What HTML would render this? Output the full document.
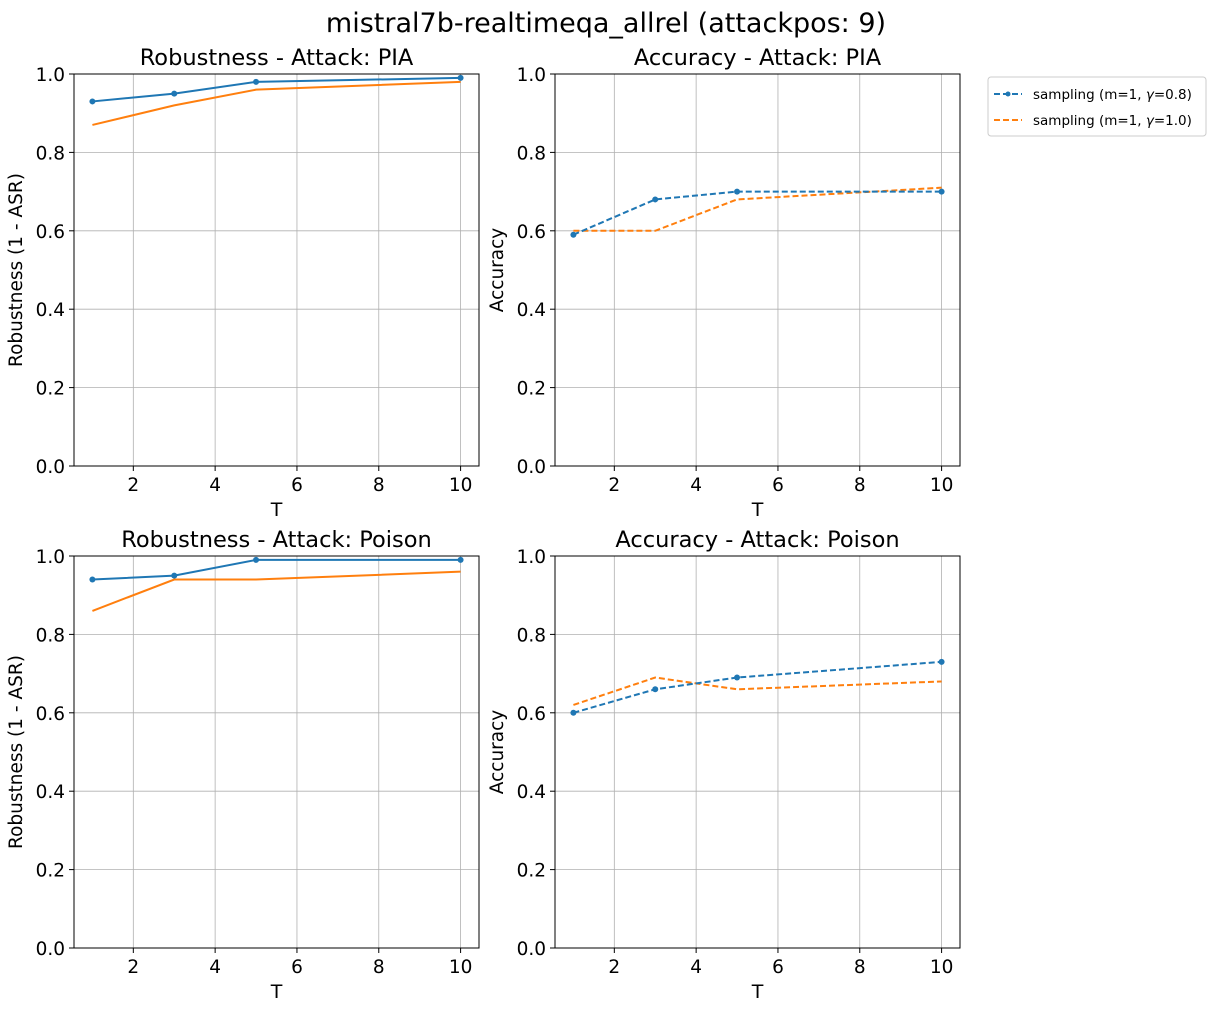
<!DOCTYPE html>
<html><head><meta charset="utf-8"><style>
body{margin:0;background:#fff;}
svg text{font-family:"DejaVu Sans","Liberation Sans",sans-serif;fill:#000;}
</style></head><body>
<svg id="chart" width="1211" height="1011" xmlns="http://www.w3.org/2000/svg">
<text x="606" y="32" font-size="27" text-anchor="middle">mistral7b-realtimeqa_allrel (attackpos: 9)</text>
<g id="legend">
<rect x="988" y="77" width="218" height="59" fill="#fff" stroke="#ccc" rx="3"/>
<line x1="994" y1="94" x2="1022" y2="94" stroke="#1f77b4" stroke-width="2" stroke-dasharray="6,3"/>
<circle cx="1008" cy="94" r="2.5" fill="#1f77b4"/>
<text x="1033" y="99" font-size="13.5">sampling (m=1, <tspan font-style="italic">γ</tspan>=0.8)</text>
<line x1="994" y1="120" x2="1022" y2="120" stroke="#ff7f0e" stroke-width="2" stroke-dasharray="6,3"/>
<text x="1033" y="125" font-size="13.5">sampling (m=1, <tspan font-style="italic">γ</tspan>=1.0)</text>
</g>
</svg>
<script>
const T = [1, 3, 5, 10];
const xTicks = [2, 4, 6, 8, 10];
const yTicks = [0.0, 0.2, 0.4, 0.6, 0.8, 1.0];
const robPiaBlue = [0.93, 0.95, 0.98, 0.99];
const robPiaOrange = [0.87, 0.92, 0.96, 0.98];
const accPiaBlue = [0.59, 0.68, 0.70, 0.70];
const accPiaOrange = [0.60, 0.60, 0.68, 0.71];
const robPoisonBlue = [0.94, 0.95, 0.99, 0.99];
const robPoisonOrange = [0.86, 0.94, 0.94, 0.96];
const accPoisonBlue = [0.60, 0.66, 0.69, 0.73];
const accPoisonOrange = [0.62, 0.69, 0.66, 0.68];

const NS = "http://www.w3.org/2000/svg";
const svg = document.getElementById('chart');
function mk(tag, attrs, parent) {
  const e = document.createElementNS(NS, tag);
  for (const k in attrs) e.setAttribute(k, attrs[k]);
  (parent || svg).appendChild(e);
  return e;
}
function panel(key, L, Tp, title, ylabel, blue, orange, dashed) {
  const W = 405, H = 392;
  const xmin = 0.55, xmax = 10.45;
  const sx = v => L + (v - xmin) / (xmax - xmin) * W;
  const sy = v => Tp + H - v * H;
  const g = mk('g', {});
  
  
  xTicks.forEach(t => {
    const l = mk('line', {x1: sx(t), x2: sx(t), y1: Tp, y2: Tp + H, stroke: '#b0b0b0', 'stroke-width': 0.8}, g);
    
    
    mk('line', {x1: sx(t), x2: sx(t), y1: Tp + H, y2: Tp + H + 5, stroke: '#000'}, g);
    const tx = mk('text', {x: sx(t), y: Tp + H + 25, 'font-size': 18.5, 'text-anchor': 'middle'}, g);
    tx.textContent = t;
    
    
  });
  yTicks.forEach(t => {
    const l = mk('line', {x1: L, x2: L + W, y1: sy(t), y2: sy(t), stroke: '#b0b0b0', 'stroke-width': 0.8}, g);
    
    
    mk('line', {x1: L - 5, x2: L, y1: sy(t), y2: sy(t), stroke: '#000'}, g);
    const tx = mk('text', {x: L - 9, y: sy(t) + 7, 'font-size': 18.5, 'text-anchor': 'end'}, g);
    tx.textContent = t.toFixed(1);
    
    
  });
  function series(vals, color, markers, name) {
    const pts = vals.map((v, i) => sx(T[i]) + ',' + sy(v)).join(' ');
    const a = {points: pts, fill: 'none', stroke: color, 'stroke-width': 2};
    if (dashed) a['stroke-dasharray'] = '6,3';
    const p = mk('polyline', a, g);
    
    
    if (markers) vals.forEach((v, i) => {
      const c = mk('circle', {cx: sx(T[i]), cy: sy(v), r: 3, fill: color}, g);
      
      
    });
  }
  series(orange, '#ff7f0e', false, key + '-gamma-1.0-line');
  series(blue, '#1f77b4', true, key + '-gamma-0.8-line');
  mk('rect', {x: L, y: Tp, width: W, height: H, fill: 'none', stroke: '#000', 'stroke-width': 1}, g);
  const tt = mk('text', {x: L + W / 2, y: Tp - 9, 'font-size': 22.5, 'text-anchor': 'middle'}, g);
  tt.textContent = title;
  
  
  const xl = mk('text', {x: L + W / 2, y: Tp + H + 50, 'font-size': 19, 'text-anchor': 'middle'}, g);
  xl.textContent = 'T';
  
  
  const cy = Tp + H / 2;
  const yx = L - 52;
  const yl = mk('text', {x: yx, y: cy, 'font-size': 18.5, 'text-anchor': 'middle', transform: 'rotate(-90 ' + yx + ' ' + cy + ')'}, g);
  yl.textContent = ylabel;
  
  
}
panel('robustness-pia', 74, 74, 'Robustness - Attack: PIA', 'Robustness (1 - ASR)', robPiaBlue, robPiaOrange, false);
panel('accuracy-pia', 555, 74, 'Accuracy - Attack: PIA', 'Accuracy', accPiaBlue, accPiaOrange, true);
panel('robustness-poison', 74, 556, 'Robustness - Attack: Poison', 'Robustness (1 - ASR)', robPoisonBlue, robPoisonOrange, false);
panel('accuracy-poison', 555, 556, 'Accuracy - Attack: Poison', 'Accuracy', accPoisonBlue, accPoisonOrange, true);
svg.appendChild(document.getElementById('legend'));
</script>
</body></html>
